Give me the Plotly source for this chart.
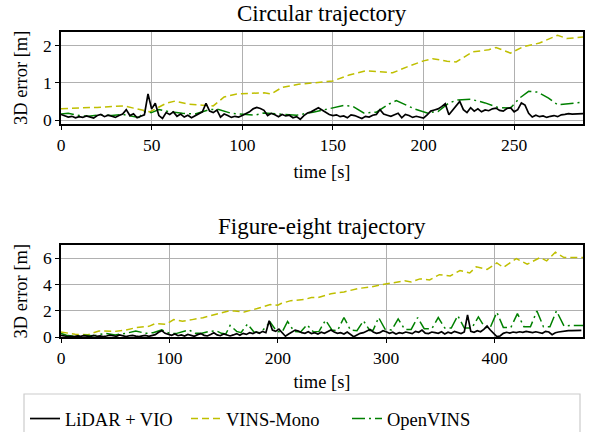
import plotly.graph_objects as go

# ---------------- data: circular trajectory ----------------
circ_lidar_vals = [0.15,0.12,0.08,0.10,0.06,0.09,0.07,0.11,0.08,0.05,0.12,0.15,0.09,0.13,0.10,0.07,0.12,0.16,0.28,0.12,0.17,0.06,0.10,0.14,
                   0.70,0.30,0.45,0.12,0.04,0.20,0.15,0.22,0.10,0.16,0.08,0.13,0.06,0.12,0.18,0.22,0.45,0.24,0.20,0.27,0.08,0.16,0.12,0.07,0.10,0.08,
                   0.12,0.16,0.22,0.30,0.34,0.31,0.26,0.12,0.18,0.14,0.09,0.15,0.11,0.13,0.06,0.09,0.02,0.12,0.19,0.22,0.28,0.33,0.27,0.20,0.15,
                   0.12,0.14,0.09,0.11,0.06,0.14,0.12,0.08,0.04,0.10,0.08,0.13,0.15,0.28,0.16,0.13,0.10,0.14,0.18,0.06,0.15,0.12,0.07,0.10,0.08,
                   0.05,0.14,0.24,0.27,0.30,0.36,0.44,0.14,0.25,0.38,0.50,0.28,0.20,0.33,0.24,0.30,0.22,0.27,0.25,0.30,0.32,0.26,0.24,0.31,0.33,
                   0.22,0.28,0.46,0.40,0.18,0.08,0.13,0.09,0.11,0.07,0.10,0.12,0.09,0.14,0.15,0.17,0.16,0.17,0.17,0.17]
circ_lidar_t = [2 * i for i in range(len(circ_lidar_vals))]

circ_vins_t = [0,5,12,20,27,35,40,45,49,53,58,63,70,78,84,90,97,105,112,116,122,131,140,150,159,168,176,183,191,200,205,213,218,227,236,240,248,255,264,274,279,288]
circ_vins_v = [0.30,0.32,0.33,0.34,0.36,0.38,0.32,0.27,0.22,0.32,0.45,0.51,0.43,0.40,0.38,0.62,0.70,0.72,0.73,0.70,0.88,0.96,1.00,1.05,1.21,1.32,1.30,1.27,1.43,1.59,1.65,1.58,1.56,1.83,1.89,1.95,1.80,1.97,2.07,2.28,2.19,2.23]

circ_open_t = [0,4,10,15,22,28,34,40,43,46,50,54,59,67,74,82,87,94,102,107,112,121,130,139,148,156,161,167,174,181,185,190,195,202,208,214,219,226,234,241,248,253,258,263,269,274,282,288]
circ_open_v = [0.16,0.18,0.12,0.10,0.14,0.12,0.15,0.10,0.07,0.22,0.20,0.28,0.23,0.18,0.16,0.28,0.28,0.18,0.16,0.13,0.19,0.16,0.13,0.21,0.30,0.39,0.37,0.19,0.21,0.43,0.52,0.41,0.30,0.19,0.23,0.46,0.54,0.56,0.46,0.34,0.32,0.59,0.77,0.75,0.59,0.41,0.46,0.48]

# ---------------- data: figure-eight trajectory ----------------
fig8_lidar_vals = [0.15,0.10,0.06,0.08,0.05,0.10,0.07,0.12,0.09,0.06,0.14,0.08,0.11,0.05,0.10,0.16,0.12,0.08,0.18,0.10,0.06,0.12,0.15,0.09,0.05,0.11,0.14,0.08,0.12,0.20,
                   0.38,0.50,0.30,0.22,0.15,0.25,0.12,0.18,0.10,0.22,0.15,0.08,0.20,0.28,0.15,0.10,0.22,0.35,0.18,0.12,0.25,0.20,0.10,0.18,0.28,0.15,0.30,0.22,0.35,0.28,
                   0.40,0.30,0.45,0.35,1.25,0.55,0.45,0.62,0.35,0.08,0.25,0.40,0.55,0.48,0.35,0.30,0.42,0.28,0.35,0.25,0.38,0.30,0.45,0.55,0.40,0.30,0.35,0.25,0.40,0.20,
                   0.05,0.18,0.30,0.35,0.45,0.60,0.40,0.30,0.35,0.50,0.42,0.30,0.38,0.25,0.35,0.30,0.40,0.35,0.28,0.45,0.38,0.55,0.32,0.28,0.40,0.35,0.30,0.42,0.25,0.38,
                   0.30,0.45,0.35,0.28,0.40,1.70,0.45,0.38,0.50,0.42,0.60,0.85,0.55,0.30,0.05,0.10,0.30,0.38,0.32,0.40,0.35,0.42,0.38,0.45,0.40,0.35,0.42,0.38,0.30,0.45,
                   0.40,0.20,0.35,0.40,0.45,0.50,0.50,0.50,0.52,0.52,0.52]
fig8_lidar_t = [3 * i for i in range(len(fig8_lidar_vals))]

fig8_vins_t = [0,6,13,25,35,50,60,69,81,87,97,104,112,121,131,143,155,160,169,181,193,200,203,212,224,231,237,249,261,274,286,298,311,317,323,331,340,349,359,368,377,383,393,402,408,420,430,442,448,456,464,482]
fig8_vins_v = [0.40,0.30,0.23,0.20,0.48,0.45,0.55,0.73,0.83,1.04,0.99,1.34,1.22,1.34,1.49,1.75,2.00,2.00,1.92,2.18,2.48,2.43,2.56,2.78,2.86,3.01,3.01,3.30,3.44,3.70,3.82,4.02,4.22,4.28,4.20,4.43,4.35,4.75,4.65,5.06,4.88,5.34,5.15,5.64,5.30,5.97,5.54,6.05,5.80,6.45,6.05,6.05]

fig8_open_t = [0,5,12,20,30,41,50,60,69,78,85,93,100,106,118,124,130,137,143,148,152,156,162,166,172,178,184,193,199,204,209,215,221,227,233,238,244,250,255,261,267,273,279,285,288,
               293,299,305,311,317,323,329,335,342,348,354,360,366,372,379,385,391,396,402,408,415,421,427,433,439,445,451,457,464,470,482]
fig8_open_v = [0.30,0.15,0.08,0.15,0.12,0.30,0.18,0.30,0.48,0.30,0.35,0.56,0.30,0.28,0.56,0.30,0.30,0.45,0.50,0.30,0.25,0.90,0.45,0.35,1.00,0.40,0.35,1.15,0.45,0.40,1.20,0.45,0.40,0.95,0.40,0.45,1.30,0.55,0.50,1.50,0.55,0.50,1.25,0.50,0.55,
               1.50,0.60,0.55,1.40,0.60,0.60,1.50,0.65,0.65,1.50,0.70,0.70,1.65,0.70,0.70,1.55,0.75,0.75,1.90,0.75,0.75,1.80,0.80,0.80,2.00,0.80,0.80,2.00,0.85,0.90,0.90]

series_names = ["LiDAR + VIO", "VINS-Mono", "OpenVINS"]
titles = ["Circular trajectory", "Figure-eight trajectory"]
x_ticks = [[0, 50, 100, 150, 200, 250], [0, 100, 200, 300, 400]]
y_ticks = [[0, 1, 2], [0, 2, 4, 6]]

# ---------------- styling ----------------
W, H = 591, 432
FONT = "Liberation Serif"
colors = ["#000000", "#bfbf00", "#008000"]
dashes = ["solid", "7px,4px", "13px,4px,2px,4px"]

def px_x(p):
    return p / W

def px_y(p):
    return 1 - p / H

fig = go.Figure()

panels = [
    (circ_lidar_t, circ_lidar_vals, circ_vins_t, circ_vins_v, circ_open_t, circ_open_v),
    (fig8_lidar_t, fig8_lidar_vals, fig8_vins_t, fig8_vins_v, fig8_open_t, fig8_open_v),
]

for k, pdata in enumerate(panels):
    xa = "x" if k == 0 else "x2"
    ya = "y" if k == 0 else "y2"
    pairs = [(pdata[0], pdata[1]), (pdata[2], pdata[3]), (pdata[4], pdata[5])]
    order = [1, 2, 0]
    for j in order:
        tx, vy = pairs[j]
        fig.add_trace(go.Scatter(
            x=tx, y=vy, mode="lines", name=series_names[j],
            line=dict(color=colors[j], width=1.7 if j == 0 else 1.5, dash=dashes[j]),
            xaxis=xa, yaxis=ya, showlegend=(k == 0), legendrank=j + 1,
        ))

axis_common = dict(
    showline=True, linecolor="black", linewidth=1.5, mirror=True,
    ticks="outside", ticklen=4, tickwidth=1, tickcolor="black",
    showgrid=True, gridcolor="#b0b0b0", gridwidth=1.3,
    zeroline=False, automargin=False,
    tickfont=dict(family=FONT, size=17.5, color="black"),
)

fig.update_layout(
    width=W, height=H,
    margin=dict(l=0, r=0, t=0, b=0, autoexpand=False),
    paper_bgcolor="white", plot_bgcolor="white",
    font=dict(family=FONT, size=18.5, color="black"),
    xaxis=dict(domain=[px_x(61), px_x(583)], range=[0, 288], tickvals=x_ticks[0], anchor="y",
               title=dict(text="time [s]", standoff=11, font=dict(size=18.5)), **axis_common),
    yaxis=dict(domain=[px_y(124), px_y(31.7)], range=[-0.107, 2.375], tickvals=y_ticks[0], anchor="x",
               title=dict(text="3D error [m]", standoff=11, font=dict(size=18.5)), **axis_common),
    xaxis2=dict(domain=[px_x(61), px_x(583)], range=[0, 481.5], tickvals=x_ticks[1], anchor="y2",
                title=dict(text="time [s]", standoff=8, font=dict(size=18.5)), **axis_common),
    yaxis2=dict(domain=[px_y(337.3), px_y(245)], range=[0, 7.0], tickvals=y_ticks[1], anchor="x2",
                title=dict(text="3D error [m]", standoff=11, font=dict(size=18.5)), **axis_common),
    legend=dict(
        orientation="h", x=px_x(25), xanchor="left", y=px_y(400), yanchor="top",
        borderwidth=0, bgcolor="rgba(0,0,0,0)",
        font=dict(family=FONT, size=18.5, color="black"),
        traceorder="normal", entrywidth=116, entrywidthmode="pixels",
    ),
    showlegend=True,
    shapes=[dict(type="rect", xref="paper", yref="paper",
                 x0=px_x(24), x1=px_x(580), y0=px_y(445), y1=px_y(394),
                 line=dict(color="#cccccc", width=1.2), fillcolor="rgba(0,0,0,0)", layer="below")],
)

fig.add_annotation(text=titles[0], x=px_x(322), y=px_y(13.5), xref="paper", yref="paper",
                   xanchor="center", yanchor="middle", showarrow=False,
                   font=dict(family=FONT, size=23, color="black"))
fig.add_annotation(text=titles[1], x=px_x(322), y=px_y(226), xref="paper", yref="paper",
                   xanchor="center", yanchor="middle", showarrow=False,
                   font=dict(family=FONT, size=23, color="black"))

fig.write_html("out.html")
